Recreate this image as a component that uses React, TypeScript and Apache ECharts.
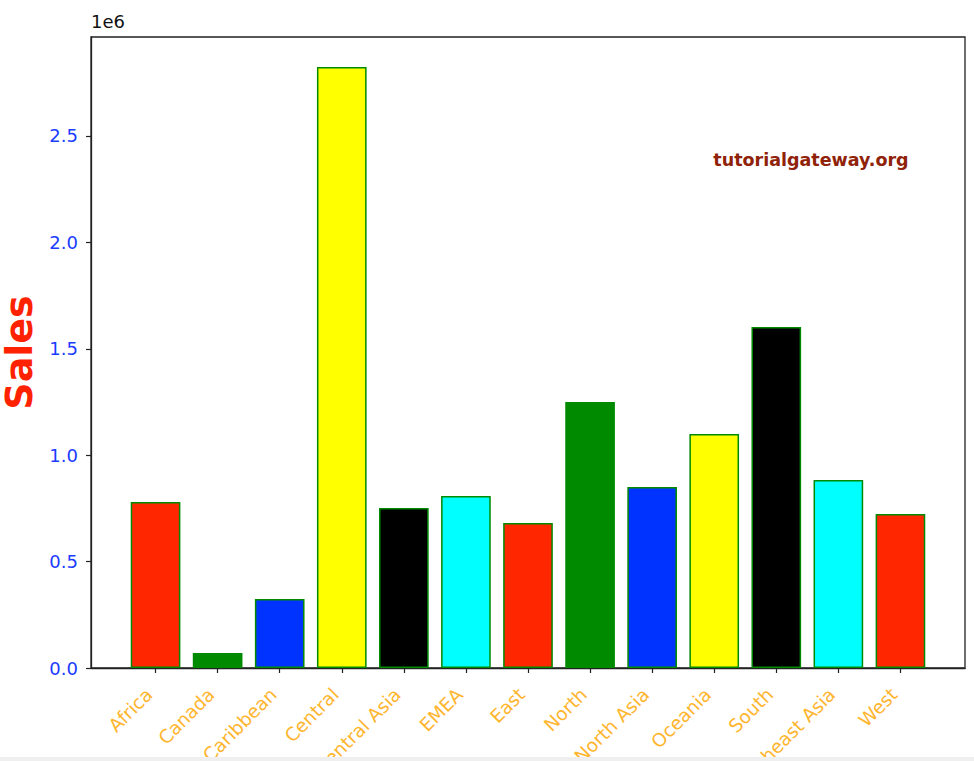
import React, { useEffect, useRef } from "react";
import * as echarts from "echarts";

const categories = ["Africa", "Canada", "Caribbean", "Central", "Central Asia", "EMEA", "East", "North", "North Asia", "Oceania", "South", "Southeast Asia", "West"];
const sales = [780000, 70000, 324000, 2824000, 752000, 808000, 681000, 1250000, 851000, 1100000, 1602000, 883000, 724000];
const barColors = ["#ff2600", "#008a00", "#0033ff", "#ffff00", "#000000", "#00ffff"];
const yTicks = [0, 500000, 1000000, 1500000, 2000000, 2500000];

export default function App() {
  const ref = useRef<HTMLDivElement>(null);
  useEffect(() => {
    if (!ref.current) return;
    const chart = echarts.init(ref.current, null, { renderer: "svg" });
    const xMin = -1.04;
    const xMax = categories.length - 1 + 1.04;
    const plotW = 965 - 91;
    const barW = 0.8 * (plotW / (xMax - xMin));
    const font = "DejaVu Sans";
    chart.setOption({
      animation: false,
      backgroundColor: "#ffffff",
      grid: {
        left: 91,
        right: 9,
        top: 37,
        bottom: 93,
        containLabel: false,
        outerBoundsMode: "none",
        show: true,
        borderColor: "#222222",
        borderWidth: 1.3,
        backgroundColor: "transparent",
      },
      xAxis: {
        type: "value",
        min: xMin,
        max: xMax,
        splitLine: { show: false },
        axisLine: { show: true, onZero: false, lineStyle: { color: "#222222", width: 1.3 } },
        axisTick: {
          show: true,
          length: 5,
          customValues: categories.map((_, i) => i),
          lineStyle: { color: "#222222", width: 1.2 },
        },
        axisLabel: {
          customValues: categories.map((_, i) => i),
          formatter: (v: number) => categories[Math.round(v)] ?? "",
          rotate: 45,
          margin: 17,
          padding: [0, 9, 0, 0],
          color: "#ffb52e",
          fontFamily: font,
          fontSize: 18.5,
          hideOverlap: false,
        },
      },
      yAxis: {
        type: "value",
        min: 0,
        max: 2965000,
        splitLine: { show: false },
        axisLine: { show: true, onZero: false, lineStyle: { color: "#222222", width: 1.3 } },
        axisTick: {
          show: true,
          length: 5,
          customValues: yTicks,
          lineStyle: { color: "#222222", width: 1.2 },
        },
        axisLabel: {
          customValues: yTicks,
          formatter: (v: number) => (v / 1e6).toFixed(1),
          color: "#1a3cff",
          fontFamily: font,
          fontSize: 18,
          margin: 13,
        },
        name: "Sales",
        nameLocation: "middle",
        nameGap: 52,
        nameTextStyle: {
          color: "#ff2200",
          fontFamily: font,
          fontWeight: "bold",
          fontSize: 38,
        },
      },
      series: [
        {
          type: "bar",
          barWidth: barW,
          data: sales.map((v, i) => ({
            value: [i, v],
            itemStyle: {
              color: barColors[i % barColors.length],
              borderColor: "#008a00",
              borderWidth: 1.5,
            },
          })),
        },
      ],
      graphic: [
        {
          type: "text",
          left: 91,
          top: 12,
          style: { text: "1e6", fill: "#111111", font: `18px ${font}` },
        },
        {
          type: "text",
          x: 811,
          y: 160,
          style: {
            text: "tutorialgateway.org",
            fill: "#8f2208",
            font: `bold 17.5px ${font}`,
            textAlign: "center",
            textVerticalAlign: "middle",
          },
        },
        {
          type: "rect",
          shape: { x: 0, y: 757, width: 974, height: 4 },
          style: { fill: "#efefef" },
          z: 100,
        },
      ],
    });
    return () => chart.dispose();
  }, []);
  return (
    <div
      ref={ref}
      style={{ position: "fixed", left: 0, top: 0, width: 974, height: 761, background: "#fff" }}
    />
  );
}
